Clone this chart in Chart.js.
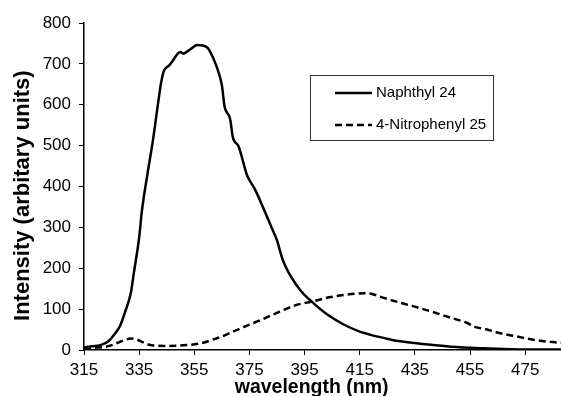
<!DOCTYPE html>
<html>
<head>
<meta charset="utf-8">
<script src="https://cdn.jsdelivr.net/npm/chart.js@4.4.1/dist/chart.umd.min.js"></script>
<style>
  html, body { margin: 0; padding: 0; background: #fff; overflow: hidden; }
  #wrap { width: 561px; height: 396px; }
</style>
</head>
<body>
<div id="wrap"><canvas id="chart" width="561" height="396"></canvas></div>
<script>
// wavelength (nm) / intensity pairs
const naphthylNm = [315, 318, 321, 324, 326, 328, 330, 332, 333, 335, 336, 338, 340, 342, 343, 344, 346, 347, 349, 350,
  351, 353, 354, 356, 358, 360, 362, 363, 365, 366, 368, 369, 371, 372, 374, 375, 377, 380, 383, 385,
  387, 390, 394, 398, 403, 409, 415, 419, 424, 429, 434, 439, 448, 460, 470, 480, 490];
const naphthylValues = [7, 9, 12, 22, 38, 58, 95, 140, 185, 275, 340, 430, 513, 610, 655, 683, 697, 706, 725, 729,
  725, 733, 738, 746, 745, 738, 712, 695, 648, 595, 565, 520, 499, 478, 430, 416, 393, 348, 300, 268,
  222, 180, 142, 116, 88, 63, 45, 37, 29, 22, 18, 14, 8, 4, 2, 1, 1];

const nitroNm = [315, 320, 323, 326, 328, 330, 332, 334, 336, 338, 340, 345, 350, 357, 362, 365, 369, 375, 380, 386,
  392, 398, 404, 410, 414, 417, 420, 424, 430, 436, 441, 448, 454, 457, 460, 466, 472, 478, 484, 490];
const nitroValues = [4, 6, 8, 14, 20, 25, 28, 26, 20, 14, 11, 10, 11, 16, 26, 33, 45, 62, 76, 94,
  110, 119, 129, 135, 138, 139, 136, 127, 115, 104, 94, 79, 66, 56, 52, 41, 33, 25, 20, 17];

const seriesNames = ['Naphthyl 24', '4-Nitrophenyl 25'];
const xTickValues = [315, 335, 355, 375, 395, 415, 435, 455, 475];
const yTickValues = [0, 100, 200, 300, 400, 500, 600, 700, 800];

const FONT = "'Liberation Sans', Arial, sans-serif";

function pairs(xs, ys) {
  return xs.map((x, i) => ({ x: x, y: ys[i] }));
}

// legend drawn as a framed box inside the plot, like the original
const boxLegend = {
  id: 'boxLegend',
  afterDraw(chart) {
    const ctx = chart.ctx;
    const left = 310, top = 75, w = 183, h = 65;
    ctx.save();
    ctx.strokeStyle = '#333';
    ctx.lineWidth = 1;
    ctx.strokeRect(left + 0.5, top + 0.5, w, h);
    ctx.font = '15px ' + FONT;
    ctx.fillStyle = '#000';
    ctx.textBaseline = 'middle';
    chart.data.datasets.forEach((ds, i) => {
      const y = top + 18 + i * 32;
      ctx.beginPath();
      ctx.setLineDash(ds.borderDash || []);
      ctx.lineWidth = ds.borderWidth;
      ctx.strokeStyle = ds.borderColor;
      ctx.moveTo(335, y);
      ctx.lineTo(372, y);
      ctx.stroke();
      ctx.setLineDash([]);
      ctx.fillText(ds.label, 376, y);
    });
    ctx.restore();
  }
};

new Chart(document.getElementById('chart'), {
  type: 'line',
  data: {
    datasets: [
      {
        label: seriesNames[0],
        data: pairs(naphthylNm, naphthylValues),
        borderColor: '#000',
        borderWidth: 2.5,
        pointRadius: 0,
        cubicInterpolationMode: 'monotone',
        fill: false
      },
      {
        label: seriesNames[1],
        data: pairs(nitroNm, nitroValues),
        borderColor: '#000',
        borderWidth: 2.5,
        borderDash: [7, 4],
        pointRadius: 0,
        cubicInterpolationMode: 'monotone',
        fill: false
      }
    ]
  },
  options: {
    responsive: false,
    animation: false,
    layout: { padding: { top: 23, right: 0, bottom: 0, left: 0 } },
    plugins: {
      legend: { display: false },
      tooltip: { enabled: false }
    },
    scales: {
      x: {
        type: 'linear',
        min: 315,
        max: 488,
        afterBuildTicks(scale) {
          scale.ticks = xTickValues.map(v => ({ value: v }));
        },
        afterFit(scale) { scale.height = 46; },
        border: { display: true, color: '#000', width: 1.5 },
        grid: { drawOnChartArea: false, drawTicks: true, tickLength: 5, color: '#000', lineWidth: 1 },
        ticks: { color: '#000', font: { family: FONT, size: 17 }, padding: 5, maxRotation: 0, autoSkip: false },
        title: {
          display: true,
          // trailing spaces nudge the centred title left, as in the original
          text: 'wavelength (nm)\u00a0\u00a0\u00a0\u00a0',
          color: '#000',
          font: { family: FONT, size: 19.5, weight: 'bold' },
          padding: { top: 0, bottom: -3 }
        }
      },
      y: {
        min: 0,
        max: 800,
        afterBuildTicks(scale) {
          scale.ticks = yTickValues.map(v => ({ value: v }));
        },
        afterFit(scale) { scale.width = 84; },
        border: { display: true, color: '#000', width: 1.5 },
        grid: { drawOnChartArea: false, drawTicks: true, tickLength: 5, color: '#000', lineWidth: 1 },
        ticks: { color: '#000', font: { family: FONT, size: 17 }, padding: 8 },
        title: {
          display: true,
          text: 'Intensity (arbitary units)\u00a0\u00a0\u00a0',
          color: '#000',
          font: { family: FONT, size: 22, weight: 'bold' },
          padding: { top: 10, bottom: 0 }
        }
      }
    }
  },
  plugins: [boxLegend]
});
</script>
</body>
</html>
